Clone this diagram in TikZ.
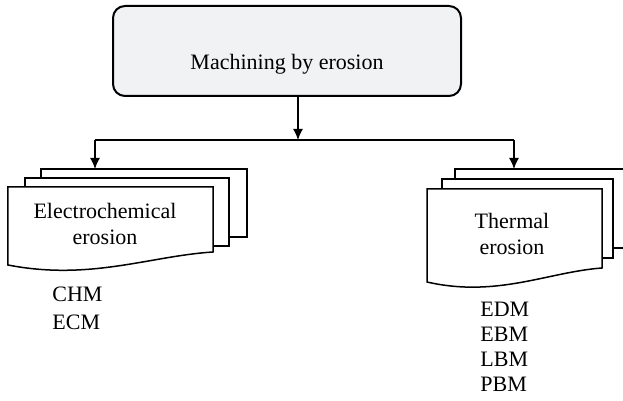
\documentclass[tikz,border=0pt]{standalone}
\usepackage{fontspec}
\setmainfont{Liberation Serif}
\usetikzlibrary{arrows.meta}
\definecolor{boxgray}{RGB}{241,242,244}
\begin{document}
\begin{tikzpicture}[x=0.5pt, y=0.5pt, font=\fontsize{11}{13}\selectfont]
    \tikzset{%
      sheet/.style={draw, fill=white, line width=0.75pt},
      topbox/.style={draw, fill=boxgray, line width=1pt, rounded corners=6pt,
        minimum width=174pt, minimum height=45pt, text height=19pt, text depth=0pt},
      conn/.style={line width=0.65pt},
      arr/.style={conn, -{Latex[length=5.5pt, width=5pt]}},
      lbl/.style={align=left, anchor=north west, inner sep=0pt}
      }
    \useasboundingbox (0,0) rectangle (623,401);
    \clip (0,0) rectangle (623,401);

    \node [topbox] (erosion) at (287,350) {Machining by erosion};

    \coordinate (split) at (298,261);
    \coordinate (splitL) at (95,261);
    \coordinate (splitR) at (514,261);
    \draw [arr] (erosion.south -| split) -- (split);
    \draw [conn] (splitL) -- (splitR);

    % left stack
    \draw [sheet] (41,164) rectangle (247,232);
    \draw [sheet] (25,155) rectangle (229,223);
    \draw [sheet] (8,214) -- (213,214) -- (213,149) .. controls (150,145) and (90,120) .. (8,136) -- cycle;
    \coordinate (electrotop) at (95,232);
    \draw [arr] (splitL) -- (electrotop);
    \node [align=center] (electro) at (105,177.5) {Electrochemical\\erosion};
    \node [lbl, font=\fontsize{11}{14}\selectfont] (electrolist) at (52,114) {CHM\\ECM};

    % right stack
    \draw [sheet] (455,153) rectangle (630,232);
    \draw [sheet] (442,143) rectangle (613,222);
    \draw [sheet] (427,212) -- (602,212) -- (602,133) .. controls (548,129) and (497,103) .. (427,119) -- cycle;
    \coordinate (thermaltop) at (514,232);
    \draw [arr] (splitR) -- (thermaltop);
    \node [align=center] (thermal) at (512,167) {Thermal\\erosion};
    \node [lbl, font=\fontsize{11}{12.5}\selectfont] (thermallist) at (480,99) {EDM\\EBM\\LBM\\PBM};

  \end{tikzpicture}
\end{document}
